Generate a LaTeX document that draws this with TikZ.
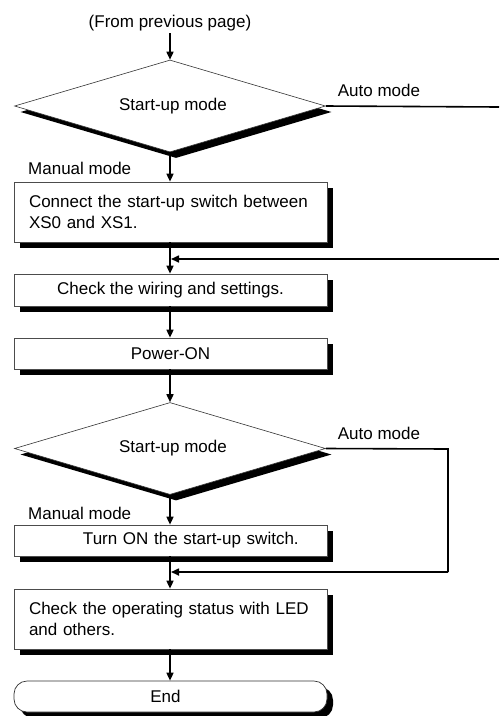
\documentclass[tikz,border=0pt]{standalone}
\usepackage{fontspec}
\setmainfont{Liberation Sans}
\usetikzlibrary{shapes.geometric,shadows,arrows.meta}
\tikzset{
  shd/.style={drop shadow={shadow xshift=6pt, shadow yshift=-6pt, opacity=1, fill=black}},
  procbox/.style={shd, draw=black!70, line width=0.7pt, fill=white, minimum width=313pt, inner sep=0pt, font=\fontsize{17}{20.5}\selectfont},
  decision/.style={shd, diamond, draw=black!80, line width=0.6pt, fill=white, minimum width=311pt, minimum height=92pt, inner sep=0pt, aspect=3.38, font=\fontsize{17}{20.5}\selectfont},
  termbox/.style={shd, draw=black!80, line width=0.7pt, fill=white, rounded corners=13pt, minimum width=313pt, minimum height=31pt, inner sep=0pt, font=\fontsize{17}{20.5}\selectfont},
  lbl/.style={inner sep=0pt, font=\fontsize{17}{20.5}\selectfont},
  conn/.style={line width=1.6pt, -{Triangle[length=8pt,width=7pt]}},
  plain/.style={line width=1.6pt}
}
\begin{document}
\begin{tikzpicture}[x=1pt,y=-1pt]
\useasboundingbox (0,0) rectangle (499,716);
\node[lbl] (from) at (170,23) {(From previous page)};
\node[decision] (d1) at (170,106) {};
\node[lbl] at (d1.center) {\hspace*{6pt}Start-up mode};
\node[lbl] (auto1) at (379,90) {Auto mode};
\node[lbl, anchor=west] (man1) at (28,168) {Manual mode};
\node[procbox, minimum height=60pt, text width=300pt, align=left] (b1) at (170.5,212) {\hspace*{8.5pt}Connect the start-up switch between\\\hspace*{8.5pt}XS0 and XS1.};
\coordinate (m1) at (170,259);
\coordinate (r1a) at (499,107);
\coordinate (r1b) at (499,259);
\node[procbox, minimum height=32pt] (b2) at (170.5,290) {Check the wiring and settings.};
\node[procbox, minimum height=31pt] (b3) at (170.5,353.5) {Power-ON};
\node[decision] (d2) at (170,448.5) {};
\node[lbl] at (d2.center) {\hspace*{6pt}Start-up mode};
\node[lbl] (auto2) at (379,433) {Auto mode};
\node[lbl, anchor=west] (man2) at (28,513) {Manual mode};
\node[procbox, minimum height=31pt, text width=313pt, align=left] (b4) at (170.5,540.5) {\hspace*{69pt}Turn ON the start-up switch.};
\coordinate (m2) at (170,572);
\coordinate (c2a) at (448,449);
\coordinate (c2b) at (448,572);
\node[procbox, minimum height=60pt, text width=300pt, align=left] (b5) at (170.5,619) {\hspace*{8.5pt}Check the operating status with LED\\\hspace*{8.5pt}and others.};
\node[termbox] (end) at (170.5,696.5) {\hspace*{-10pt}End};

\draw[conn] (from.south |- 0,33) -- (d1.north);
\draw[conn] (d1.south) -- (d1.south |- b1.north);
\draw[plain] (d1.east) -- (r1a);
\draw[plain] (d1.south |- b1.south) -- (m1);
\draw[conn] (m1) -- (m1 |- b2.north);
\draw[conn] (r1b) -- ([xshift=1pt]m1);
\draw[conn] (m1 |- b2.south) -- (m1 |- b3.north);
\draw[conn] (m1 |- b3.south) -- (d2.north);
\draw[conn] (d2.south) -- (d2.south |- b4.north);
\draw[plain] (d2.east) -- (c2a) -- (c2b);
\draw[plain] (m1 |- b4.south) -- (m2);
\draw[conn] (c2b) -- ([xshift=1pt]m2);
\draw[conn] (m2) -- (m2 |- b5.north);
\draw[conn] (m2 |- b5.south) -- (m2 |- end.north);
\end{tikzpicture}
\end{document}
